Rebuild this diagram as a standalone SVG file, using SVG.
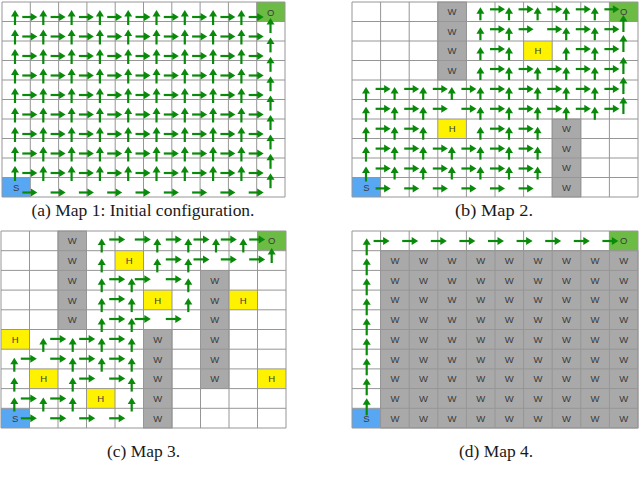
<svg xmlns="http://www.w3.org/2000/svg" width="640" height="480" viewBox="0 0 640 480">
<style>
.grid{fill:none;stroke:#969696;stroke-width:1}
.wall{fill:#a9a9a9;stroke:#8a8a8a;stroke-width:0.8}
.hole{fill:#fff200}
.start{fill:#58a7f2}
.goal{fill:#6cbb45}
.lbl{font-family:"Liberation Sans",Arial,sans-serif;font-size:9.5px;fill:#3a3a3a;text-anchor:middle}
.cap{font-family:"Liberation Serif","Times New Roman",serif;font-size:17px;fill:#1a1a1a;text-anchor:middle}
</style>
<defs>
<g id="U13"><path d="M0 0V-8" stroke="#0a8a0a" stroke-width="2.2"/><path d="M-4 -6.5H4L0 -13Z" fill="#0a8a0a"/></g>
<g id="U14"><path d="M0 0V-9" stroke="#0a8a0a" stroke-width="2.2"/><path d="M-4 -7.5H4L0 -14Z" fill="#0a8a0a"/></g>
<g id="U15"><path d="M0 0V-10" stroke="#0a8a0a" stroke-width="2.2"/><path d="M-4 -8.5H4L0 -15Z" fill="#0a8a0a"/></g>
<g id="U17"><path d="M0 0V-12" stroke="#0a8a0a" stroke-width="2.2"/><path d="M-4 -10.5H4L0 -17Z" fill="#0a8a0a"/></g>
<g id="R15"><path d="M0 0H10" stroke="#0a8a0a" stroke-width="2.2"/><path d="M8.5 -4V4L15 0Z" fill="#0a8a0a"/></g>
<g id="R16"><path d="M0 0H11" stroke="#0a8a0a" stroke-width="2.2"/><path d="M9.5 -4V4L16 0Z" fill="#0a8a0a"/></g>
<g id="m1u">
<use href="#U15" x="15" y="25"/><use href="#U15" x="43.3" y="25"/><use href="#U15" x="71.6" y="25"/><use href="#U15" x="99.9" y="25"/><use href="#U15" x="128.2" y="25"/><use href="#U15" x="156.5" y="25"/><use href="#U15" x="184.8" y="25"/><use href="#U15" x="213.1" y="25"/><use href="#U15" x="241.4" y="25"/>
</g>
<g id="m1r">
<use href="#R15" x="22.3" y="17"/><use href="#R15" x="50.6" y="17"/><use href="#R15" x="78.9" y="17"/><use href="#R15" x="107.2" y="17"/><use href="#R15" x="135.5" y="17"/><use href="#R15" x="163.8" y="17"/><use href="#R15" x="192.1" y="17"/><use href="#R15" x="220.4" y="17"/><use href="#R15" x="248.7" y="17"/>
</g>
<g id="m4w">
<text class="lbl" x="394.9" y="264.1">W</text><text class="lbl" x="423.5" y="264.1">W</text><text class="lbl" x="452.1" y="264.1">W</text><text class="lbl" x="480.7" y="264.1">W</text><text class="lbl" x="509.3" y="264.1">W</text><text class="lbl" x="537.9" y="264.1">W</text><text class="lbl" x="566.5" y="264.1">W</text><text class="lbl" x="595.1" y="264.1">W</text><text class="lbl" x="623.7" y="264.1">W</text>
</g>
</defs>
<rect x="0" y="0" width="640" height="480" fill="#ffffff"/>

<!-- Map 1 -->
<g id="map1">
<g id="map1-cells">
<rect class="start" x="2" y="177.5" width="28.3" height="19.5"/>
<rect class="goal" x="256.7" y="2" width="28.3" height="19.5"/>
</g>
<path class="grid" d="M2 2V197M30.3 2V197M58.6 2V197M86.9 2V197M115.2 2V197M143.5 2V197M171.8 2V197M200.1 2V197M228.4 2V197M256.7 2V197M285 2V197M2 2H285M2 21.5H285M2 41H285M2 60.5H285M2 80H285M2 99.5H285M2 119H285M2 138.5H285M2 158H285M2 177.5H285M2 197H285"/>
<text class="lbl" x="16.2" y="191">S</text>
<text class="lbl" x="270.8" y="15.5">O</text>
<g id="map1-arrows">
<use href="#m1u" y="0"/><use href="#m1u" y="19.5"/><use href="#m1u" y="39"/><use href="#m1u" y="58.5"/><use href="#m1u" y="78"/><use href="#m1u" y="97.5"/><use href="#m1u" y="117"/><use href="#m1u" y="136.5"/><use href="#m1u" y="156"/>
<use href="#m1r" y="0"/><use href="#m1r" y="19.5"/><use href="#m1r" y="39"/><use href="#m1r" y="58.5"/><use href="#m1r" y="78"/><use href="#m1r" y="97.5"/><use href="#m1r" y="117"/><use href="#m1r" y="136.5"/><use href="#m1r" y="156"/><use href="#m1r" y="175.5"/>
<use href="#U15" x="270.5" y="33"/><use href="#U15" x="270.5" y="52.4"/><use href="#U15" x="270.5" y="71.8"/><use href="#U15" x="270.5" y="91.2"/><use href="#U15" x="270.5" y="110.6"/><use href="#U15" x="270.5" y="130"/><use href="#U15" x="270.5" y="149.4"/><use href="#U15" x="270.5" y="168.8"/><use href="#U15" x="270.5" y="188.2"/>
</g>
</g>

<!-- Map 2 -->
<g id="map2">
<g id="map2-cells">
<rect class="wall" x="437.8" y="2" width="28.6" height="78"/>
<rect class="wall" x="552.2" y="119" width="28.6" height="78"/>
<rect class="hole" x="523.6" y="41" width="28.6" height="19.5"/>
<rect class="hole" x="437.8" y="119" width="28.6" height="19.5"/>
<rect class="start" x="352" y="177.5" width="28.6" height="19.5"/>
<rect class="goal" x="609.4" y="2" width="28.6" height="19.5"/>
</g>
<path class="grid" d="M352 2V197M380.6 2V197M409.2 2V197M437.8 2V197M466.4 2V197M495 2V197M523.6 2V197M552.2 2V197M580.8 2V197M609.4 2V197M638 2V197M352 2H638M352 21.5H638M352 41H638M352 60.5H638M352 80H638M352 99.5H638M352 119H638M352 138.5H638M352 158H638M352 177.5H638M352 197H638"/>
<g id="map2-labels">
<text class="lbl" x="452.1" y="15.2">W</text><text class="lbl" x="452.1" y="34.7">W</text><text class="lbl" x="452.1" y="54.2">W</text><text class="lbl" x="452.1" y="73.7">W</text>
<text class="lbl" x="566.5" y="132.2">W</text><text class="lbl" x="566.5" y="151.7">W</text><text class="lbl" x="566.5" y="171.2">W</text><text class="lbl" x="566.5" y="190.7">W</text>
<text class="lbl" x="537.9" y="54.2">H</text><text class="lbl" x="452.1" y="132.2">H</text>
<text class="lbl" x="366.3" y="190.7">S</text><text class="lbl" x="623.7" y="15.2">O</text>
</g>
<g id="map2-arrows">
<use href="#U13" x="480.4" y="20.3"/><use href="#U13" x="509" y="20.3"/><use href="#U13" x="537.6" y="20.3"/><use href="#U13" x="566.2" y="20.3"/><use href="#U13" x="594.8" y="20.3"/>
<use href="#U13" x="480.4" y="40.2"/><use href="#U13" x="509" y="40.2"/><use href="#U13" x="566.2" y="40.2"/><use href="#U13" x="594.8" y="40.2"/>
<use href="#U13" x="480.4" y="60.1"/><use href="#U13" x="509" y="60.1"/><use href="#U13" x="566.2" y="60.1"/><use href="#U13" x="594.8" y="60.1"/>
<use href="#U13" x="480.4" y="80"/><use href="#U13" x="509" y="80"/><use href="#U13" x="537.6" y="80"/><use href="#U13" x="566.2" y="80"/><use href="#U13" x="594.8" y="80"/>
<use href="#U13" x="394.6" y="99.9"/><use href="#U13" x="423.2" y="99.9"/><use href="#U13" x="451.8" y="99.9"/><use href="#U13" x="480.4" y="99.9"/><use href="#U13" x="509" y="99.9"/><use href="#U13" x="537.6" y="99.9"/><use href="#U13" x="566.2" y="99.9"/><use href="#U13" x="594.8" y="99.9"/>
<use href="#U13" x="394.6" y="119.8"/><use href="#U13" x="423.2" y="119.8"/><use href="#U13" x="480.4" y="119.8"/><use href="#U13" x="509" y="119.8"/><use href="#U13" x="537.6" y="119.8"/><use href="#U13" x="566.2" y="119.8"/><use href="#U13" x="594.8" y="119.8"/>
<use href="#U13" x="394.6" y="139.7"/><use href="#U13" x="423.2" y="139.7"/><use href="#U13" x="480.4" y="139.7"/><use href="#U13" x="509" y="139.7"/><use href="#U13" x="537.6" y="139.7"/>
<use href="#U13" x="394.6" y="159.6"/><use href="#U13" x="423.2" y="159.6"/><use href="#U13" x="451.8" y="159.6"/><use href="#U13" x="480.4" y="159.6"/><use href="#U13" x="509" y="159.6"/><use href="#U13" x="537.6" y="159.6"/>
<use href="#U13" x="394.6" y="179.5"/><use href="#U13" x="423.2" y="179.5"/><use href="#U13" x="451.8" y="179.5"/><use href="#U13" x="480.4" y="179.5"/><use href="#U13" x="509" y="179.5"/><use href="#U13" x="537.6" y="179.5"/>
<use href="#U15" x="366" y="101.9"/><use href="#U15" x="366" y="121.8"/><use href="#U15" x="366" y="141.7"/><use href="#U15" x="366" y="161.6"/><use href="#U15" x="366" y="181.5"/>
<use href="#U17" x="623.4" y="32"/><use href="#U17" x="623.4" y="52"/><use href="#U17" x="623.4" y="74"/><use href="#U17" x="623.4" y="94"/><use href="#U17" x="623.4" y="114"/>
<use href="#R15" x="490" y="9.3"/><use href="#R15" x="518.6" y="9.3"/><use href="#R15" x="547.2" y="9.3"/><use href="#R15" x="575.8" y="9.3"/><use href="#R15" x="604.4" y="9.3"/>
<use href="#R15" x="490" y="29.2"/><use href="#R15" x="518.6" y="29.2"/><use href="#R15" x="547.2" y="29.2"/><use href="#R15" x="575.8" y="29.2"/><use href="#R15" x="604.4" y="29.2"/>
<use href="#R15" x="490" y="49.1"/><use href="#R15" x="575.8" y="49.1"/><use href="#R15" x="604.4" y="49.1"/>
<use href="#R15" x="490" y="69"/><use href="#R15" x="518.6" y="69"/><use href="#R15" x="547.2" y="69"/><use href="#R15" x="575.8" y="69"/><use href="#R15" x="604.4" y="69"/>
<use href="#R15" x="375.6" y="88.9"/><use href="#R15" x="404.2" y="88.9"/><use href="#R15" x="432.8" y="88.9"/><use href="#R15" x="461.4" y="88.9"/><use href="#R15" x="490" y="88.9"/><use href="#R15" x="518.6" y="88.9"/><use href="#R15" x="547.2" y="88.9"/><use href="#R15" x="575.8" y="88.9"/><use href="#R15" x="604.4" y="88.9"/>
<use href="#R15" x="375.6" y="108.8"/><use href="#R15" x="404.2" y="108.8"/><use href="#R15" x="432.8" y="108.8"/><use href="#R15" x="461.4" y="108.8"/><use href="#R15" x="490" y="108.8"/><use href="#R15" x="518.6" y="108.8"/><use href="#R15" x="547.2" y="108.8"/><use href="#R15" x="575.8" y="108.8"/><use href="#R15" x="604.4" y="108.8"/>
<use href="#R15" x="375.6" y="128.7"/><use href="#R15" x="404.2" y="128.7"/><use href="#R15" x="490" y="128.7"/><use href="#R15" x="518.6" y="128.7"/>
<use href="#R15" x="375.6" y="148.6"/><use href="#R15" x="404.2" y="148.6"/><use href="#R15" x="432.8" y="148.6"/><use href="#R15" x="461.4" y="148.6"/><use href="#R15" x="490" y="148.6"/><use href="#R15" x="518.6" y="148.6"/>
<use href="#R15" x="375.6" y="168.5"/><use href="#R15" x="404.2" y="168.5"/><use href="#R15" x="432.8" y="168.5"/><use href="#R15" x="461.4" y="168.5"/><use href="#R15" x="490" y="168.5"/><use href="#R15" x="518.6" y="168.5"/>
<use href="#R15" x="375.6" y="188.4"/><use href="#R15" x="404.2" y="188.4"/><use href="#R15" x="432.8" y="188.4"/><use href="#R15" x="461.4" y="188.4"/><use href="#R15" x="490" y="188.4"/><use href="#R15" x="518.6" y="188.4"/>
</g>
</g>

<!-- Map 3 -->
<g id="map3">
<g id="map3-cells">
<rect class="wall" x="58" y="231" width="28.5" height="98.5"/>
<rect class="wall" x="200.5" y="270.4" width="28.5" height="118.2"/>
<rect class="wall" x="143.5" y="329.5" width="28.5" height="98.5"/>
<rect class="hole" x="115" y="250.7" width="28.5" height="19.7"/>
<rect class="hole" x="143.5" y="290.1" width="28.5" height="19.7"/>
<rect class="hole" x="229" y="290.1" width="28.5" height="19.7"/>
<rect class="hole" x="1" y="329.5" width="28.5" height="19.7"/>
<rect class="hole" x="29.5" y="368.9" width="28.5" height="19.7"/>
<rect class="hole" x="257.5" y="368.9" width="28.5" height="19.7"/>
<rect class="hole" x="86.5" y="388.6" width="28.5" height="19.7"/>
<rect class="start" x="1" y="408.3" width="28.5" height="19.7"/>
<rect class="goal" x="257.5" y="231" width="28.5" height="19.7"/>
</g>
<path class="grid" d="M1 231V428M29.5 231V428M58 231V428M86.5 231V428M115 231V428M143.5 231V428M172 231V428M200.5 231V428M229 231V428M257.5 231V428M286 231V428M1 231H286M1 250.7H286M1 270.4H286M1 290.1H286M1 309.8H286M1 329.5H286M1 349.2H286M1 368.9H286M1 388.6H286M1 408.3H286M1 428H286"/>
<g id="map3-labels">
<text class="lbl" x="72.25" y="244.4">W</text><text class="lbl" x="72.25" y="264.1">W</text><text class="lbl" x="72.25" y="283.8">W</text><text class="lbl" x="72.25" y="303.5">W</text><text class="lbl" x="72.25" y="323.2">W</text>
<text class="lbl" x="214.75" y="283.8">W</text><text class="lbl" x="214.75" y="303.5">W</text><text class="lbl" x="214.75" y="323.2">W</text><text class="lbl" x="214.75" y="342.9">W</text><text class="lbl" x="214.75" y="362.6">W</text><text class="lbl" x="214.75" y="382.3">W</text>
<text class="lbl" x="157.75" y="342.9">W</text><text class="lbl" x="157.75" y="362.6">W</text><text class="lbl" x="157.75" y="382.3">W</text><text class="lbl" x="157.75" y="402">W</text><text class="lbl" x="157.75" y="421.7">W</text>
<text class="lbl" x="129.25" y="264.1">H</text><text class="lbl" x="157.75" y="303.5">H</text><text class="lbl" x="243.25" y="303.5">H</text><text class="lbl" x="15.25" y="342.9">H</text><text class="lbl" x="43.75" y="382.3">H</text><text class="lbl" x="271.75" y="382.3">H</text><text class="lbl" x="100.75" y="402">H</text>
<text class="lbl" x="15.25" y="421.7">S</text><text class="lbl" x="271.75" y="244.4">O</text>
</g>
<g id="map3-arrows">
<use href="#U14" x="14.3" y="371.7"/><use href="#U14" x="14.3" y="391.6"/><use href="#U14" x="14.3" y="411.5"/>
<use href="#U14" x="43.3" y="351.9"/><use href="#U14" x="43.3" y="411.5"/>
<use href="#U14" x="72.7" y="351.9"/><use href="#U14" x="72.7" y="371.7"/><use href="#U14" x="72.7" y="391.6"/><use href="#U14" x="72.7" y="411.5"/>
<use href="#U14" x="101.7" y="252.5"/><use href="#U14" x="101.7" y="272.4"/><use href="#U14" x="101.7" y="292.2"/><use href="#U14" x="101.7" y="312.1"/><use href="#U14" x="101.7" y="332"/><use href="#U14" x="101.7" y="351.9"/><use href="#U14" x="101.7" y="371.7"/>
<use href="#U14" x="131.7" y="292.2"/><use href="#U14" x="131.7" y="312.1"/><use href="#U14" x="131.7" y="332"/><use href="#U14" x="131.7" y="351.9"/><use href="#U14" x="131.7" y="371.7"/><use href="#U14" x="131.7" y="391.6"/><use href="#U14" x="131.7" y="411.5"/>
<use href="#U14" x="157.3" y="252.5"/><use href="#U14" x="157.3" y="272.4"/>
<use href="#U14" x="188.3" y="252.5"/><use href="#U14" x="188.3" y="272.4"/><use href="#U14" x="188.3" y="292.2"/><use href="#U14" x="188.3" y="312.1"/>
<use href="#U14" x="216" y="252.5"/><use href="#U14" x="243.3" y="252.5"/>
<use href="#U15" x="271.7" y="263"/>
<use href="#R16" x="109.2" y="239.5"/><use href="#R16" x="134.8" y="239.5"/><use href="#R16" x="165.8" y="239.5"/><use href="#R16" x="193.5" y="239.5"/><use href="#R16" x="220.8" y="239.5"/><use href="#R16" x="249.2" y="239.5"/>
<use href="#R16" x="165.8" y="259.4"/><use href="#R16" x="193.5" y="259.4"/><use href="#R16" x="220.8" y="259.4"/><use href="#R16" x="249.2" y="259.4"/>
<use href="#R16" x="109.2" y="279.2"/><use href="#R16" x="134.8" y="279.2"/><use href="#R16" x="165.8" y="279.2"/>
<use href="#R16" x="109.2" y="299.1"/>
<use href="#R16" x="109.2" y="319"/><use href="#R16" x="134.8" y="319"/><use href="#R16" x="165.8" y="319"/>
<use href="#R16" x="50.2" y="338.9"/><use href="#R16" x="79.2" y="338.9"/><use href="#R16" x="109.2" y="338.9"/>
<use href="#R16" x="20.8" y="358.7"/><use href="#R16" x="50.2" y="358.7"/><use href="#R16" x="79.2" y="358.7"/><use href="#R16" x="109.2" y="358.7"/>
<use href="#R16" x="79.2" y="378.6"/><use href="#R16" x="109.2" y="378.6"/>
<use href="#R16" x="20.8" y="398.5"/><use href="#R16" x="50.2" y="398.5"/>
<use href="#R16" x="20.8" y="418.3"/><use href="#R16" x="50.2" y="418.3"/><use href="#R16" x="79.2" y="418.3"/><use href="#R16" x="109.2" y="418.3"/>
</g>
</g>

<!-- Map 4 -->
<g id="map4">
<g id="map4-cells">
<rect class="wall" x="380.6" y="250.7" width="257.4" height="177.3"/>
<rect class="start" x="352" y="408.3" width="28.6" height="19.7"/>
<rect class="goal" x="609.4" y="231" width="28.6" height="19.7"/>
</g>
<path class="grid" d="M352 231V428M380.6 231V428M409.2 231V428M437.8 231V428M466.4 231V428M495 231V428M523.6 231V428M552.2 231V428M580.8 231V428M609.4 231V428M638 231V428M352 231H638M352 250.7H638M352 270.4H638M352 290.1H638M352 309.8H638M352 329.5H638M352 349.2H638M352 368.9H638M352 388.6H638M352 408.3H638M352 428H638"/>
<g id="map4-labels">
<use href="#m4w" y="0"/><use href="#m4w" y="19.7"/><use href="#m4w" y="39.4"/><use href="#m4w" y="59.1"/><use href="#m4w" y="78.8"/><use href="#m4w" y="98.5"/><use href="#m4w" y="118.2"/><use href="#m4w" y="137.9"/><use href="#m4w" y="157.6"/>
<text class="lbl" x="366.3" y="421.7">S</text><text class="lbl" x="623.7" y="244.4">O</text>
</g>
<g id="map4-arrows">
<use href="#U17" x="366.7" y="255.3"/><use href="#U17" x="366.7" y="275.3"/><use href="#U17" x="366.7" y="295.3"/><use href="#U17" x="366.7" y="315.3"/><use href="#U17" x="366.7" y="335.3"/><use href="#U17" x="366.7" y="355.3"/><use href="#U17" x="366.7" y="375.3"/><use href="#U17" x="366.7" y="395.3"/><use href="#U17" x="366.7" y="415.3"/>
<use href="#R16" x="373.6" y="241"/><use href="#R16" x="402.2" y="241"/><use href="#R16" x="430.8" y="241"/><use href="#R16" x="459.4" y="241"/><use href="#R16" x="488" y="241"/><use href="#R16" x="516.6" y="241"/><use href="#R16" x="545.2" y="241"/><use href="#R16" x="573.8" y="241"/><use href="#R16" x="602.4" y="241"/>
</g>
</g>

<!-- Captions -->
<g id="captions">
<text class="cap" x="143" y="216" textLength="223" lengthAdjust="spacingAndGlyphs">(a) Map 1: Initial configuration.</text>
<text class="cap" x="494" y="216" textLength="78" lengthAdjust="spacingAndGlyphs">(b) Map 2.</text>
<text class="cap" x="143.5" y="457" textLength="73" lengthAdjust="spacingAndGlyphs">(c) Map 3.</text>
<text class="cap" x="496" y="457" textLength="74" lengthAdjust="spacingAndGlyphs">(d) Map 4.</text>
</g>
</svg>
